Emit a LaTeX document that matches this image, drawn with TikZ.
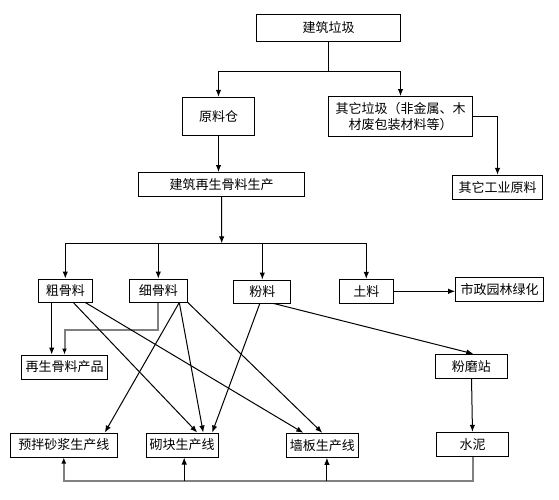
\documentclass[tikz,border=0pt]{standalone}
\usepackage{fontspec}
\setmainfont{Noto Sans CJK SC}
\usetikzlibrary{arrows.meta}
\definecolor{linegray}{RGB}{128,128,128}
\begin{document}
\begin{tikzpicture}[x=1pt,y=-1pt,line width=1pt,
	arr/.style={-{Latex[length=7pt,width=5.5pt]}},
	grayarr/.style={draw=linegray,line width=2pt,
		-{Latex[length=6pt,width=5pt,color=black]}}]
			\useasboundingbox (0,0) rectangle (559,499);
			\begin{scope}[every node/.style={draw,line width=1pt,inner sep=0pt,
				minimum height=24pt,align=center,font=\fontsize{13}{16}\selectfont}]
			\node (W) at (328.5,27.8) [minimum width=144pt,minimum height=27pt]{建筑垃圾};
			\node (Y) at (218.5,116.3) [minimum width=72pt,minimum height=38pt]{原料仓};
			\node (O) at (400.5,116.5) [minimum width=144pt,minimum height=40pt]{其它垃圾（非金属、木\\材废包装材料等）};
			\node (I) at (497.5,187.3) [minimum width=90pt]{其它工业原料};
			\node (P) at (221.5,184.5) [minimum width=166pt]{建筑再生骨料生产};
			\node (C) at (65.3,290.5) [minimum width=54pt,minimum height=23pt]{粗骨料};
			\node (F) at (158.3,290.5) [minimum width=58pt,minimum height=23pt]{细骨料};
			\node (D) at (262.3,291.5) [minimum width=57pt,minimum height=23pt]{粉料};
			\node (S) at (366.3,291.3) [minimum width=54pt]{土料};
			\node (L) at (499.6,289.3) [minimum width=88pt]{市政园林绿化};
			\node (G) at (64.5,367) [minimum width=86pt]{再生骨料产品};
			\node (N) at (471.3,366.3) [minimum width=72pt]{粉磨站};
			\node (M) at (63.8,445) [minimum width=107pt]{预拌砂浆生产线};
			\node (B) at (182.2,445) [minimum width=72pt]{砌块生产线};
			\node (Q) at (322.3,445.3) [minimum width=72pt]{墙板生产线};
			\node (X) at (472.7,444.3) [minimum width=72pt]{水泥};
			\end{scope}
			\coordinate (V) at (328.5,71.7);
			\coordinate (T) at (221.7,243.3);
			\coordinate (U) at (268,481);
			
			\draw (W) -- (V);
			\draw[arr] (V) -| (Y);
			\draw[arr] (V) -| (O);
			\draw[arr] (O) -| (I);
			\draw[arr] (Y.south) -- (Y.south |- P.north);
			\draw[arr] (P) -- (T);
			\draw (T -| C) -- (T -| S);
			\draw[arr] (T -| C) -- (C);
			\draw[arr] (T -| F) -- (F);
			\draw[arr] (T -| D) -- (D);
			\draw[arr] (T -| S) -- (S);
			\draw[arr] (S.east) -- (S.east -| L.west);
			
			\draw[arr] ([xshift=-13.6pt]C.south) -- ([xshift=-13.6pt]C.south |- G.north);
			\draw[grayarr] (F.south) -- ++(0,27) -| (G);
			\draw[arr] ([xshift=8pt]C.south) -- ([xshift=15pt]B.north);
			\draw[arr] ([xshift=20pt]C.south) -- ([xshift=-19pt]Q.north);
			\draw[arr] ([xshift=21pt]F.south) -- ([xshift=41pt]M.north);
			\draw[arr] ([xshift=21pt]F.south) -- ([xshift=21pt]B.north);
			\draw[arr] (F.south east) -- (Q.north);
			\draw[arr] ([xshift=-2.5pt]D.south) -- ([xshift=30pt]B.north);
			\draw[arr] ([xshift=11.5pt]D.south) -- ([xshift=2pt]N.north);
			\draw[arr] (N) -- (X);
			
			\draw[grayarr] (X.south) -- (X.south |- U) -| (M);
			\draw[arr] ([xshift=2pt]B.south |- U) -- ([xshift=2pt]B.south);
			\draw[arr] ([xshift=4.6pt]Q.south |- U) -- ([xshift=4.6pt]Q.south);
			\end{tikzpicture}
\end{document}
